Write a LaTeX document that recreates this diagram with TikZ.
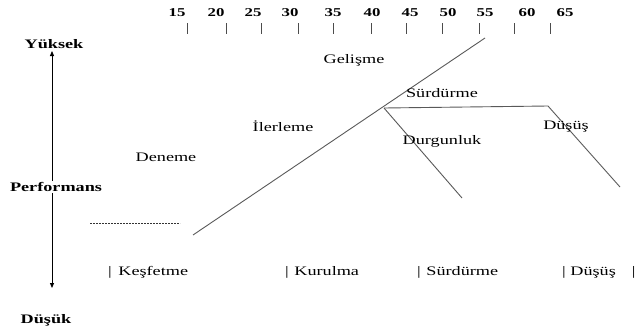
\documentclass[tikz,border=0pt]{standalone}
\usepackage{fontspec}
\setmainfont{Liberation Serif}
\newfontfamily\rf[FakeStretch=1.4]{Liberation Serif}
\usetikzlibrary{arrows.meta}
\begin{document}
\begin{tikzpicture}[x=1pt,y=-1pt,
  lbl/.style={inner sep=0pt,font=\rf\fontsize{13}{13}\selectfont},
  blbl/.style={inner sep=0pt,font=\rf\bfseries\fontsize{13}{13}\selectfont},
  num/.style={inner sep=0pt,font=\rf\bfseries\fontsize{12}{12}\selectfont},
  curve/.style={draw=black!65,line width=0.9pt},
  tick/.style={draw=black!70,line width=0.8pt}]
\useasboundingbox (0,0) rectangle (636,332);
% scale numbers and ticks
\foreach \n/\lx/\tx in {15/177/187,20/216/226,25/253/261,30/290/298,35/333/333,40/372/371,45/410/406,50/448/442,55/485/479,60/527/514,65/565/550}{
  \node[num] (n\n) at (\lx,13) {\n};
  \draw[tick] (\tx,23) -- (\tx,34);
}
% axis labels
\node[blbl] (hi) at (54,44) {Yüksek};
\node[blbl,fill=white,inner sep=1pt] (perf) at (56,187) {Performans};
\node[blbl] (lo) at (46,320) {Düşük};
\coordinate (atop) at (52,51);
\coordinate (abot) at (52,288);
\draw[line width=0.8pt,-{Triangle[length=5pt,width=4pt]}] (perf.north -| atop) -- (atop);
\draw[line width=0.8pt,-{Triangle[length=5pt,width=4pt]}] (perf.south -| abot) -- (abot);
% curve
\coordinate (c0) at (193,235);
\coordinate (c1) at (485,38);
\coordinate (b0) at (384,108);
\coordinate (b1) at (548,106);
\coordinate (b2) at (620,187);
\coordinate (d1) at (462,198);
\draw[curve] (c0) -- (c1);
\draw[curve] (b0) -- (b1) -- (b2);
\draw[curve] (b0) -- (d1);
\coordinate (ds0) at (90,223);
\coordinate (ds1) at (180,223);
\draw[line width=0.6pt,black!80,dash pattern=on 1.8pt off 1.2pt] (ds0) -- (ds1);
% stage labels
\node[lbl] (gel) at (354,60) {Gelişme};
\node[lbl] (ile) at (283,126) {İlerleme};
\node[lbl] (den) at (166,157) {Deneme};
\node[lbl] (sur) at (442,93) {Sürdürme};
\node[lbl] (dur) at (442,141) {Durgunluk};
\node[lbl] (dus) at (566,127) {Düşüş};
% bottom labels
\node[lbl,anchor=west] (k1) at (108,272) {|\hspace{2pt} Keşfetme};
\node[lbl,anchor=west] (k2) at (285,272) {|\hspace{1pt} Kurulma};
\node[lbl,anchor=west] (k3) at (417,272) {|\hspace{1pt} Sürdürme};
\node[lbl,anchor=west] (k4) at (562,272) {| Düşüş\hspace{16pt}|};
\end{tikzpicture}
\end{document}
